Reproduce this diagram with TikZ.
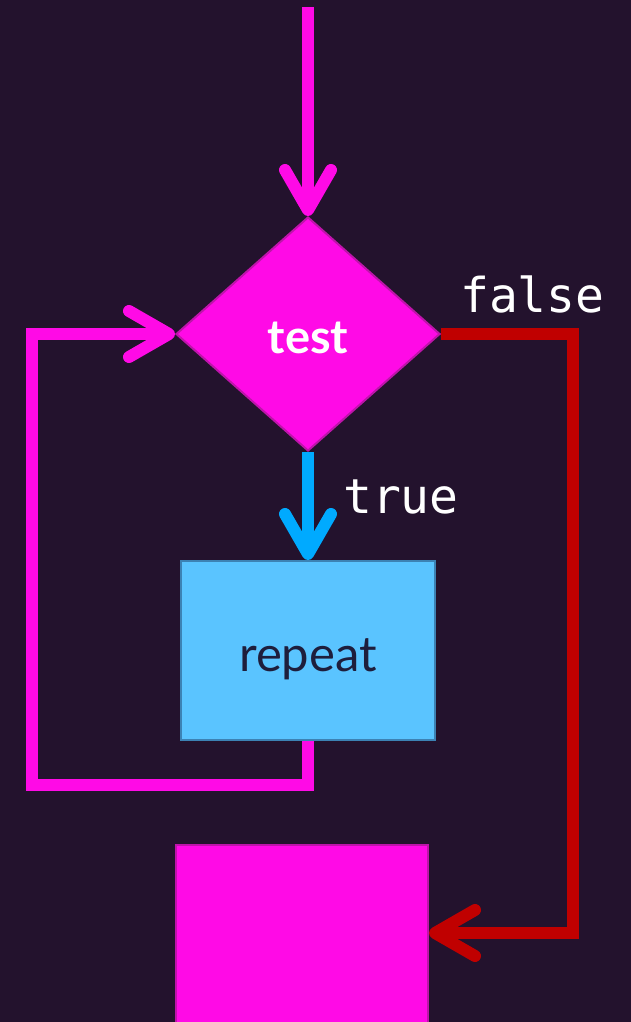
\documentclass[tikz,border=0pt]{standalone}
\usepackage{fontspec}
\setmainfont{Lato}
\newfontfamily\codefont{DejaVu Sans Mono}
\usetikzlibrary{shapes.geometric,arrows.meta}
\definecolor{bgdark}{RGB}{35,18,45}
\definecolor{flowmag}{RGB}{255,10,230}
\definecolor{flowmagedge}{RGB}{190,20,170}
\definecolor{flowblue}{RGB}{0,170,255}
\definecolor{boxblue}{RGB}{90,196,255}
\definecolor{boxblueedge}{RGB}{60,130,180}
\definecolor{flowred}{RGB}{192,0,0}
\definecolor{textnavy}{RGB}{30,30,60}
\newcommand{\lowered}[2]{\raisebox{-#1}[\height][\depth]{#2}}
\tikzset{
  flowline/.style={line width=12pt, -{Straight Barb[length=40pt,width=46pt,round]}},
  decision/.style={diamond, draw=flowmagedge, fill=flowmag, line width=2pt,
    minimum width=264pt, minimum height=234pt, inner sep=0pt,
    text=white, font=\fontsize{47}{56}\selectfont\bfseries},
  process/.style={rectangle, draw=boxblueedge, fill=boxblue, line width=2pt,
    minimum width=254pt, minimum height=179pt, inner sep=0pt,
    text=textnavy, font=\fontsize{49}{58}\selectfont},
  endbox/.style={rectangle, draw=flowmagedge, fill=flowmag, line width=2pt,
    minimum width=252pt, minimum height=200pt, inner sep=0pt},
  codelabel/.style={text=white, font=\codefont\fontsize{48}{56}\selectfont, inner sep=0pt}
}
\begin{document}
\begin{tikzpicture}[x=1pt,y=-1pt]
  \fill[bgdark] (0,0) rectangle (631,1022);
  \useasboundingbox (0,0) rectangle (631,1022);

  % nodes
  \node[decision] (test) at (308,334) {\lowered{4pt}{test}};
  \node[process] (body) at (308,650.5) {\lowered{9pt}{repeat}};
  \node[endbox] (next) at (302,945) {};

  % helper points
  \coordinate (entry) at (308,7);
  \coordinate (loopcorner) at (32,785);
  \coordinate (falsecorner) at (573,933);

  % entry arrow
  \draw[flowline, flowmag] (entry) -- (test.north);
  % true branch
  \draw[flowline, flowblue] (test.south) -- (body.north);
  % loop back to the test
  \draw[flowline, flowmag] (body.south) |- (loopcorner) |- (test.west);
  % false branch
  \draw[flowline, flowred] (test.east) -| (falsecorner) -- (falsecorner -| next.east);

  % branch labels
  \node[codelabel, anchor=west] (truelbl) at (343,497) {true};
  \node[codelabel, anchor=west] (falselbl) at (460,294) {false};
\end{tikzpicture}
\end{document}
